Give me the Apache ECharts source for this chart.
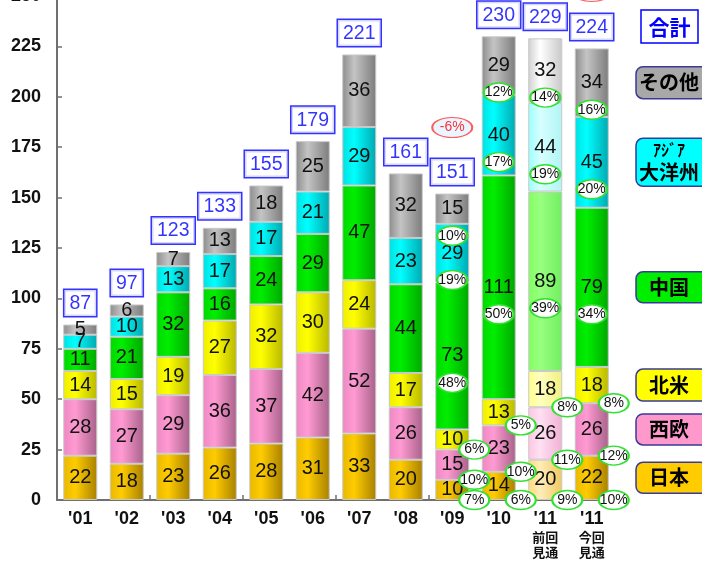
<!DOCTYPE html>
<html>
<head>
<meta charset="utf-8">
<script src="https://cdn.jsdelivr.net/npm/echarts@6/dist/echarts.min.js"></script>
<style>
  html, body { margin: 0; padding: 0; background: #ffffff; }
  #chart { width: 702px; height: 564px; }
</style>
</head>
<body>
<div id="chart"></div>
<script>
// Years on the category axis (the last two are the previous and current 2011 outlooks)
const categories = ["'01", "'02", "'03", "'04", "'05", "'06", "'07", "'08", "'09", "'10", "'11\n前回\n見通", "'11\n今回\n見通"];

// Values per region, bottom of the stack first
const japan        = [22, 18, 23, 26, 28, 31, 33, 20, 10, 14, 20, 22];
const westEurope   = [28, 27, 29, 36, 37, 42, 52, 26, 15, 23, 26, 26];
const northAmerica = [14, 15, 19, 27, 32, 30, 24, 17, 10, 13, 18, 18];
const china        = [11, 21, 32, 16, 24, 29, 47, 44, 73, 111, 89, 79];
const asiaOceania  = [7, 10, 13, 17, 17, 21, 29, 23, 29, 40, 44, 45];
const others       = [5, 6, 7, 13, 18, 25, 36, 32, 15, 29, 32, 34];

// Totals as printed above each bar
const totals = [87, 97, 123, 133, 155, 179, 221, 161, 151, 230, 229, 224];

// Regional shares (%) shown from '09 onwards
const shareJapan        = [null, null, null, null, null, null, null, null, 7, 6, 9, 10];
const shareWestEurope   = [null, null, null, null, null, null, null, null, 10, 10, 11, 12];
const shareNorthAmerica = [null, null, null, null, null, null, null, null, 6, 5, 8, 8];
const shareChina        = [null, null, null, null, null, null, null, null, 48, 50, 39, 34];
const shareAsiaOceania  = [null, null, null, null, null, null, null, null, 19, 17, 19, 20];
const shareOthers       = [null, null, null, null, null, null, null, null, 10, 12, 14, 16];

// Year-on-year change note for '09
const changeNotes = ['-6%'];

const OUTLOOK_PREV = 10; // index of the previous outlook bar (paler colours)

const regions = [
  { name: '日本', values: japan, share: shareJapan, ring: 'side', legendFill: '#ffcc00',
    shade: ['#e8b800', '#ffcc00', '#a88000'], pale: ['#ffd97a', '#ffecb8', '#f0c860'] },
  { name: '西欧', values: westEurope, share: shareWestEurope, ring: 'side', legendFill: '#ff99cc',
    shade: ['#ee88c4', '#ff9ad2', '#a8628a'], pale: ['#ffc4e4', '#ffe0f2', '#f0b0d4'] },
  { name: '北米', values: northAmerica, share: shareNorthAmerica, ring: 'side', legendFill: '#ffff00',
    shade: ['#eeee00', '#ffff00', '#b8b800'], pale: ['#ffff88', '#ffffc0', '#f0f080'] },
  { name: '中国', values: china, share: shareChina, ring: 'inside', legendFill: '#00ee00',
    shade: ['#00d800', '#00ee00', '#00a800'], pale: ['#80ff60', '#99ff80', '#70ee60'] },
  { name: 'アジア大洋州', values: asiaOceania, share: shareAsiaOceania, ring: 'inside', legendFill: '#00ffff',
    shade: ['#00e0e0', '#00ffff', '#00a8b0'], pale: ['#99ffff', '#d8ffff', '#b0f4f4'] },
  { name: 'その他', values: others, share: shareOthers, ring: 'inside', legendFill: '#a8a8a8',
    shade: ['#8c8c8c', '#c4c4c4', '#7c7c7c'], pale: ['#d0d0d0', '#ffffff', '#c8c8c8'] }
];

function hGrad(c) {
  return new echarts.graphic.LinearGradient(0, 0, 1, 0, [
    { offset: 0, color: c[0] },
    { offset: 0.35, color: c[1] },
    { offset: 1, color: c[2] }
  ]);
}

const NUM_FONT = "'Liberation Sans', Arial, sans-serif";
const JP_FONT = "'Noto Sans CJK JP', 'Noto Sans', sans-serif";

// Stacked bars
const series = [];
const base = categories.map(() => 0);
const shareItems = [];

regions.forEach(r => {
  series.push({
    name: r.name,
    type: 'bar',
    stack: 'total',
    barWidth: 34,
    silent: true,
    data: r.values.map((v, i) => i === OUTLOOK_PREV
      ? { value: v, itemStyle: { color: hGrad(r.pale) } }
      : v),
    itemStyle: { color: hGrad(r.shade), borderColor: '#c8c8c8', borderWidth: 1 },
    label: {
      show: true,
      position: 'inside',
      color: '#111',
      fontSize: 20,
      fontFamily: NUM_FONT
    }
  });
  r.values.forEach((v, i) => {
    const s = r.share[i];
    if (s != null) {
      if (r.ring === 'side') {
        shareItems.push({ value: [i, base[i], s + '%'], symbolOffset: [22, 0] });
      } else {
        shareItems.push({ value: [i, base[i] + v / 2, s + '%'], symbolOffset: [0, 27] });
      }
    }
    base[i] += v;
  });
});

// Share ellipses
series.push({
  type: 'scatter',
  silent: true,
  z: 5,
  symbol: 'circle',
  symbolSize: [30, 19],
  itemStyle: { color: '#ffffff', borderColor: '#33e033', borderWidth: 1.8, opacity: 1 },
  label: {
    show: true,
    position: 'inside',
    formatter: p => p.value[2],
    color: '#111',
    fontSize: 14,
    fontFamily: NUM_FONT
  },
  data: shareItems
});

// Total boxes above each bar
series.push({
  type: 'scatter',
  silent: true,
  z: 6,
  symbolSize: 1,
  itemStyle: { color: 'rgba(0,0,0,0)' },
  label: {
    show: true,
    position: 'top',
    distance: 8,
    formatter: p => String(totals[p.dataIndex]),
    color: '#0000ff',
    fontSize: 19.5,
    fontFamily: NUM_FONT,
    backgroundColor: '#ffffff',
    borderColor: '#0000ff',
    borderWidth: 1.5,
    padding: [3, 5, 2, 5],
    lineHeight: 21
  },
  data: base.map((t, i) => [i, t])
});

// Change notes (red ellipses above '09 and the current outlook)
series.push({
  type: 'scatter',
  silent: true,
  z: 6,
  symbol: 'circle',
  symbolSize: [40, 20],
  itemStyle: { color: '#e6f2ff', borderColor: '#ff3333', borderWidth: 1.5 },
  label: {
    show: true,
    position: 'inside',
    formatter: p => p.value[2],
    color: '#ff0000',
    fontSize: 14,
    fontFamily: NUM_FONT
  },
  data: [
    { value: [8, base[8], changeNotes[0]], symbolOffset: [0, -66] },
    { value: [11, base[11], ''], symbolOffset: [0, -57] }
  ]
});

const chart = echarts.init(document.getElementById('chart'), null, { renderer: 'canvas' });

chart.setOption({
  animation: false,
  backgroundColor: '#ffffff',
  grid: { left: 57, right: 87, top: -4, bottom: 64, containLabel: false, outerBoundsMode: 'none' },
  xAxis: {
    type: 'category',
    data: categories,
    axisLine: { show: true, lineStyle: { color: '#707070', width: 2 } },
    axisTick: { show: true, inside: true, length: 5, interval: 1, lineStyle: { color: '#707070', width: 1.5 } },
    axisLabel: {
      interval: 0,
      margin: 9,
      formatter: v => {
        const parts = v.split('\n');
        if (parts.length === 1) return '{a|' + v + '}';
        return '{a|' + parts[0] + '}\n{b|' + parts[1] + '}\n{b|' + parts[2] + '}';
      },
      rich: {
        a: { fontSize: 18, fontWeight: 'bold', color: '#111', fontFamily: NUM_FONT, lineHeight: 21 },
        b: { fontSize: 13, fontWeight: 'bold', color: '#111', fontFamily: JP_FONT, lineHeight: 15 }
      }
    }
  },
  yAxis: {
    type: 'value',
    min: 0,
    max: 250,
    interval: 25,
    splitLine: { show: false },
    axisLine: { show: true, lineStyle: { color: '#707070', width: 2 } },
    axisTick: { show: true, inside: true, length: 5, lineStyle: { color: '#707070', width: 1.5 } },
    axisLabel: { color: '#111', fontSize: 18, fontWeight: 'bold', fontFamily: NUM_FONT, margin: 16 }
  },
  series: series
});

// Legend boxes on the right, each level with its region in the last bar
const legendX = 636;
const legendW = 72;
const last = categories.length - 1;
const legendHeights = [31, 31, 32, 31, 48, 32];
const graphics = [];
let cum = 0;
regions.forEach((r, k) => {
  const mid = cum + r.values[last] / 2;
  cum += r.values[last];
  const y = chart.convertToPixel({ gridIndex: 0 }, [last, mid])[1];
  const h = legendHeights[k];
  const isAsia = r.name === 'アジア大洋州';
  const texts = isAsia
    ? [{ t: 'ｱｼﾞｱ', dy: -12, size: 16 }, { t: '大洋州', dy: 10, size: 20 }]
    : [{ t: r.name, dy: 0, size: 20 }];
  graphics.push({
    type: 'group',
    silent: true,
    children: [{
      type: 'rect',
      shape: { x: legendX, y: y - h / 2, width: legendW, height: h, r: 7 },
      style: { fill: r.legendFill, stroke: '#3a3a99', lineWidth: 1.5 }
    }].concat(texts.map(tx => ({
      type: 'text',
      style: {
        x: legendX + 33, y: y + tx.dy, text: tx.t, align: 'center', verticalAlign: 'middle',
        fontSize: tx.size, fontWeight: 'bold', fill: '#000', fontFamily: JP_FONT
      }
    })))
  });
});
graphics.push({
  type: 'group',
  silent: true,
  children: [
    { type: 'rect', shape: { x: 641, y: 10, width: 57, height: 33 },
      style: { fill: '#ffffff', stroke: '#0000ff', lineWidth: 1.5 } },
    { type: 'text', style: { x: 669.5, y: 27, text: '合計', align: 'center', verticalAlign: 'middle',
      fontSize: 21, fontWeight: 'bold', fill: '#0000ff', fontFamily: JP_FONT } }
  ]
});
chart.setOption({ graphic: graphics });
</script>
</body>
</html>
